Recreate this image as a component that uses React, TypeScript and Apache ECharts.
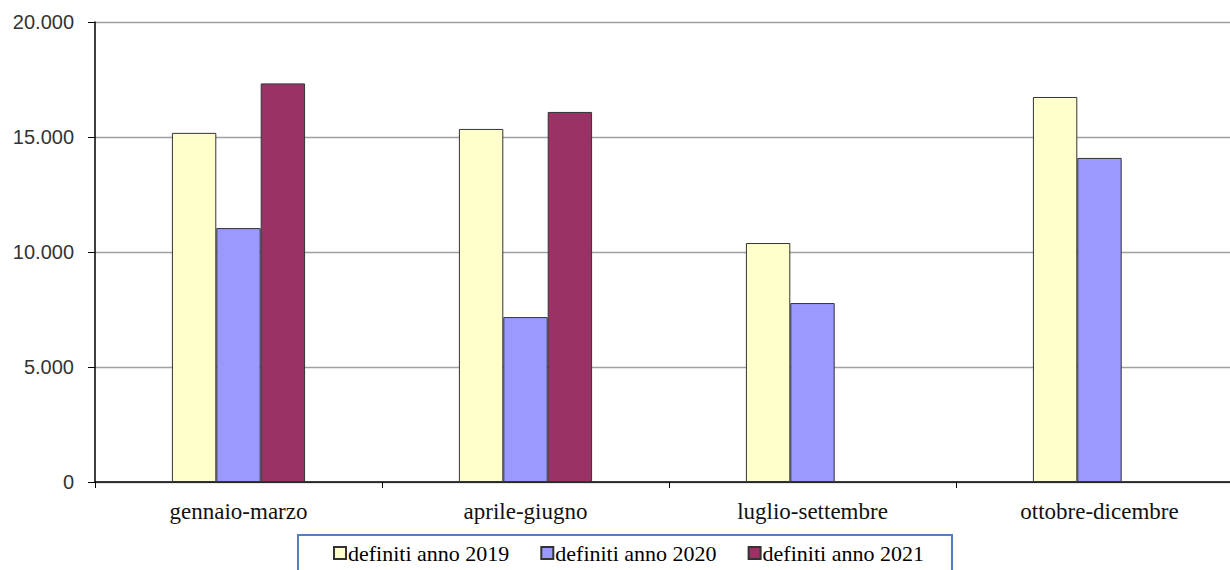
import React, { useEffect, useRef } from "react";
import * as echarts from "echarts";

const categories = ["gennaio-marzo", "aprile-giugno", "luglio-settembre", "ottobre-dicembre"];
const seriesNames = ["definiti anno 2019", "definiti anno 2020", "definiti anno 2021"];
const values2019 = [15180, 15350, 10390, 16740];
const values2020 = [11040, 7170, 7780, 14090];
const values2021: (number | null)[] = [17330, 16090, null, null];
const colors = ["#FFFFCC", "#9999FF", "#993366"];

export default function App() {
  const ref = useRef<HTMLDivElement>(null);
  useEffect(() => {
    if (!ref.current) return;
    const chart = echarts.init(ref.current, null, { renderer: "svg" });
    const fmt = (v: number) => {
      if (v === 0) return "0";
      const s = String(v);
      return s.slice(0, s.length - 3) + "." + s.slice(s.length - 3);
    };
    const all = [values2019, values2020, values2021];
    chart.setOption({
      animation: false,
      backgroundColor: "#ffffff",
      grid: { left: 95, top: 22, right: 0, bottom: 88, containLabel: false },
      graphic: [
        {
          type: "rect",
          shape: { x: 298, y: 535, width: 654, height: 50 },
          style: { fill: "#ffffff", stroke: "#4f7fc0", lineWidth: 2 },
          z: -1,
        },
      ],
      legend: {
        left: 333,
        top: 542,
        data: seriesNames,
        itemWidth: 12,
        itemHeight: 12,
        itemGap: 31,
        padding: 0,
        icon: "rect",
        textStyle: { fontFamily: "Liberation Serif", fontSize: 22, color: "#000", padding: [0, 0, 0, -3] },
      },
      xAxis: {
        type: "category",
        data: categories,
        axisLine: { lineStyle: { color: "#000", width: 1.5 } },
        axisTick: { show: true, length: 6, alignWithLabel: false, lineStyle: { color: "#000" } },
        axisLabel: { fontFamily: "Liberation Serif", fontSize: 23, color: "#111", margin: 18 },
      },
      yAxis: {
        type: "value",
        min: 0,
        max: 20000,
        interval: 5000,
        axisLine: { show: true, lineStyle: { color: "#000", width: 1.5 } },
        axisTick: { show: true, length: 7, lineStyle: { color: "#000" } },
        splitLine: { lineStyle: { color: "#a0a0a0", width: 1.3 } },
        axisLabel: {
          fontFamily: "Liberation Sans",
          fontSize: 20,
          color: "#333",
          margin: 21,
          formatter: (v: number) => fmt(v),
        },
      },
      series: seriesNames.map((name, i) => ({
        name,
        type: "bar",
        data: all[i],
        barGap: "0%",
        barCategoryGap: "53.6%",
        itemStyle: { color: colors[i], borderColor: "#333", borderWidth: 1 },
      })),
    });
    return () => chart.dispose();
  }, []);
  return (
    <div style={{ position: "absolute", left: 0, top: 0, width: 1230, height: 570, overflow: "hidden" }}>
      <div ref={ref} style={{ width: 1243, height: 570 }} />
    </div>
  );
}
